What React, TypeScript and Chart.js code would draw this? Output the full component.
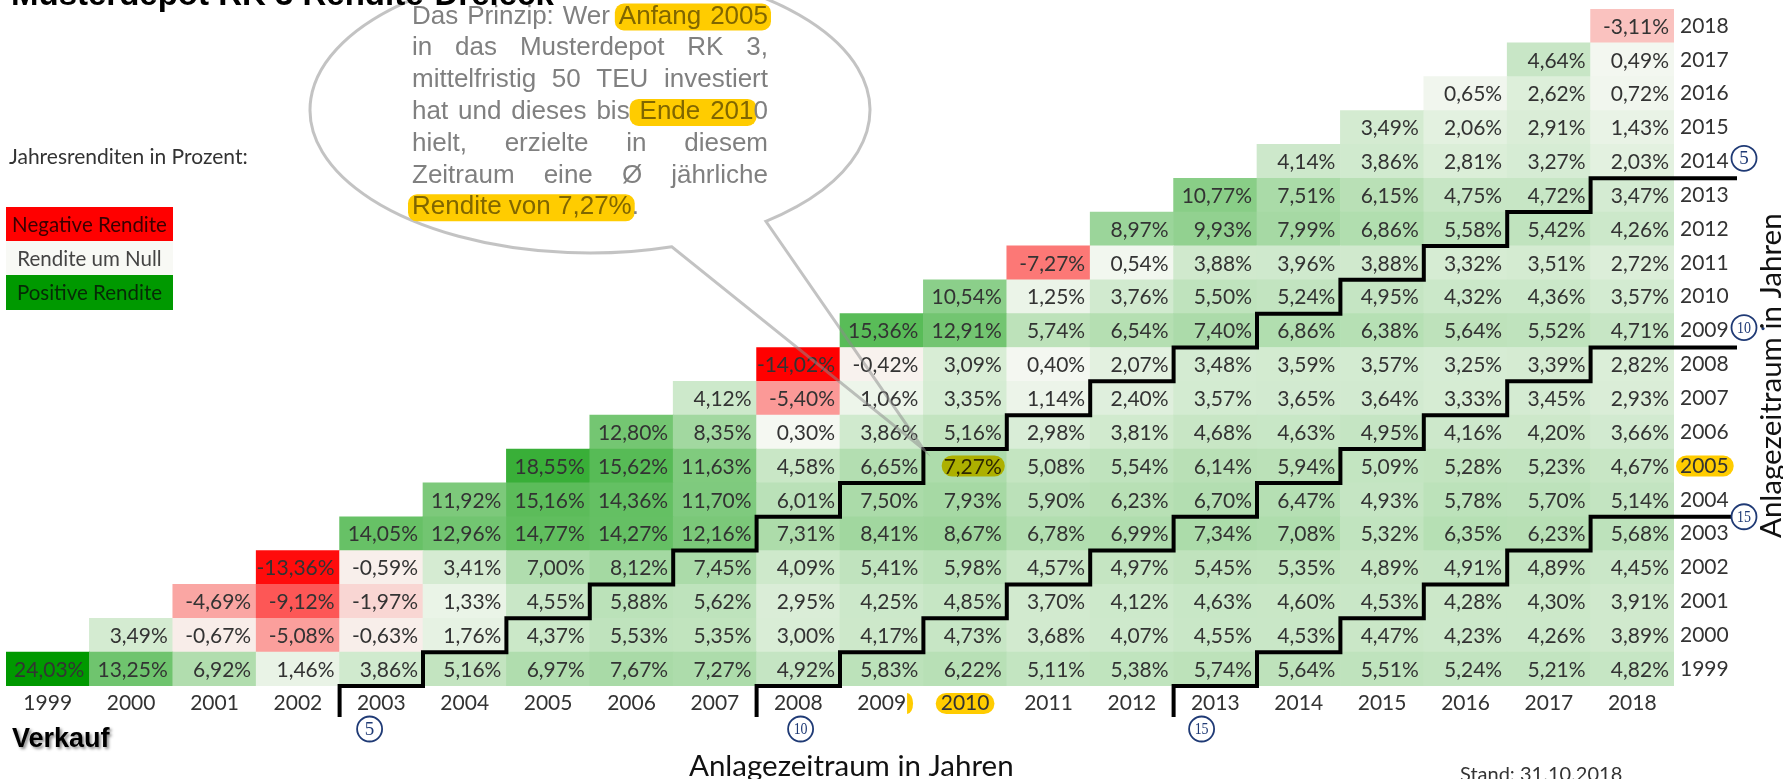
import React, { useEffect, useRef } from 'react';
import { Chart, registerables } from 'chart.js';

Chart.register(...registerables);

// Sell years (x axis, "Verkauf") and buy years (rows, "Anlage")
const sellYears = ['1999', '2000', '2001', '2002', '2003', '2004', '2005', '2006', '2007', '2008', '2009', '2010', '2011', '2012', '2013', '2014', '2015', '2016', '2017', '2018'];
const buyYears = ['1999', '2000', '2001', '2002', '2003', '2004', '2005', '2006', '2007', '2008', '2009', '2010', '2011', '2012', '2013', '2014', '2015', '2016', '2017', '2018'];

// Average yearly return (%) for each buy year, sell years from buy year to 2018
const r1999 = [24.03, 13.25, 6.92, 1.46, 3.86, 5.16, 6.97, 7.67, 7.27, 4.92, 5.83, 6.22, 5.11, 5.38, 5.74, 5.64, 5.51, 5.24, 5.21, 4.82];
const r2000 = [3.49, -0.67, -5.08, -0.63, 1.76, 4.37, 5.53, 5.35, 3.0, 4.17, 4.73, 3.68, 4.07, 4.55, 4.53, 4.47, 4.23, 4.26, 3.89];
const r2001 = [-4.69, -9.12, -1.97, 1.33, 4.55, 5.88, 5.62, 2.95, 4.25, 4.85, 3.7, 4.12, 4.63, 4.6, 4.53, 4.28, 4.3, 3.91];
const r2002 = [-13.36, -0.59, 3.41, 7.0, 8.12, 7.45, 4.09, 5.41, 5.98, 4.57, 4.97, 5.45, 5.35, 4.89, 4.91, 4.89, 4.45];
const r2003 = [14.05, 12.96, 14.77, 14.27, 12.16, 7.31, 8.41, 8.67, 6.78, 6.99, 7.34, 7.08, 5.32, 6.35, 6.23, 5.68];
const r2004 = [11.92, 15.16, 14.36, 11.7, 6.01, 7.5, 7.93, 5.9, 6.23, 6.7, 6.47, 4.93, 5.78, 5.7, 5.14];
const r2005 = [18.55, 15.62, 11.63, 4.58, 6.65, 7.27, 5.08, 5.54, 6.14, 5.94, 5.09, 5.28, 5.23, 4.67];
const r2006 = [12.8, 8.35, 0.3, 3.86, 5.16, 2.98, 3.81, 4.68, 4.63, 4.95, 4.16, 4.2, 3.66];
const r2007 = [4.12, -5.4, 1.06, 3.35, 1.14, 2.4, 3.57, 3.65, 3.64, 3.33, 3.45, 2.93];
const r2008 = [-14.02, -0.42, 3.09, 0.4, 2.07, 3.48, 3.59, 3.57, 3.25, 3.39, 2.82];
const r2009 = [15.36, 12.91, 5.74, 6.54, 7.4, 6.86, 6.38, 5.64, 5.52, 4.71];
const r2010 = [10.54, 1.25, 3.76, 5.5, 5.24, 4.95, 4.32, 4.36, 3.57];
const r2011 = [-7.27, 0.54, 3.88, 3.96, 3.88, 3.32, 3.51, 2.72];
const r2012 = [8.97, 9.93, 7.99, 6.86, 5.58, 5.42, 4.26];
const r2013 = [10.77, 7.51, 6.15, 4.75, 4.72, 3.47];
const r2014 = [4.14, 3.86, 2.81, 3.27, 2.03];
const r2015 = [3.49, 2.06, 2.91, 1.43];
const r2016 = [0.65, 2.62, 0.72];
const r2017 = [4.64, 0.49];
const r2018 = [-3.11];

const rows = [r1999, r2000, r2001, r2002, r2003, r2004, r2005, r2006, r2007, r2008, r2009, r2010, r2011, r2012, r2013, r2014, r2015, r2016, r2017, r2018];

// holding-period step lines (years)
const holdingPeriods = [5, 10, 15];
// highlighted example: buy 2005, sell 2010
const exampleBuy = '2005';
const exampleSell = '2010';

const bubbleLines = [
  'Das Prinzip: Wer [Anfang 2005]',
  'in das Musterdepot RK 3,',
  'mittelfristig 50 TEU investiert',
  'hat und dieses bis[ Ende 201]0',
  'hielt, erzielte in diesem',
  'Zeitraum eine Ø jährliche',
  '[Rendite von 7,27%].',
];

const NEG = [255, 0, 0];
const MID = [248, 249, 245];
const POS = [0, 153, 0];
const allValues = rows.flat();
const VMIN = Math.min(...allValues);
const VMAX = Math.max(...allValues);

function mixRGB(v: number): number[] {
  if (v >= 0) {
    const t = Math.min(1, v / VMAX);
    return MID.map((m, i) => Math.round(m + t * (POS[i] - m)));
  }
  const t = Math.min(1, v / VMIN);
  return MID.map((m, i) => Math.round(m + t * (NEG[i] - m)));
}
function cellColor(v: number): string {
  const c = mixRGB(v);
  return `rgb(${c[0]},${c[1]},${c[2]})`;
}
function fmt(v: number): string {
  return v.toFixed(2).replace('.', ',') + '%';
}

const FONT = 'Lato, "Open Sans", sans-serif';
const ARIAL = '"Liberation Sans", Arial, sans-serif';
const YELLOW = '#ffcc00';
const NAVY = '#1f3a75';

function circled(ctx: CanvasRenderingContext2D, x: number, y: number, n: string) {
  ctx.save();
  ctx.beginPath();
  ctx.arc(x, y, 12.5, 0, Math.PI * 2);
  ctx.fillStyle = '#fff';
  ctx.fill();
  ctx.lineWidth = 1.8;
  ctx.strokeStyle = NAVY;
  ctx.stroke();
  ctx.fillStyle = NAVY;
  ctx.font = (n.length > 1 ? '17px ' : '19px ') + '"Liberation Serif", "DejaVu Serif", serif';
  ctx.textAlign = 'center';
  ctx.textBaseline = 'middle';
  if (n.length > 1) {
    ctx.save();
    ctx.translate(x, y + 1);
    ctx.scale(0.82, 1);
    ctx.fillText(n, 0, 0);
    ctx.restore();
  } else {
    ctx.fillText(n, x, y + 1);
  }
  ctx.restore();
}

function drawBubbleText(ctx: CanvasRenderingContext2D) {
  ctx.save();
  ctx.font = '26px ' + ARIAL;
  ctx.textBaseline = 'alphabetic';
  ctx.textAlign = 'left';
  const x0 = 412;
  const width = 356;
  const base0 = 23.5;
  const lh = 31.8;
  bubbleLines.forEach((line, li) => {
    const baseY = base0 + li * lh;
    const justify = li < bubbleLines.length - 1;
    const chars: { c: string; hl: boolean }[] = [];
    let hl = false;
    for (const c of line) {
      if (c === '[') { hl = true; continue; }
      if (c === ']') { hl = false; continue; }
      chars.push({ c, hl });
    }
    const tokens: { space: boolean; chars: { c: string; hl: boolean }[] }[] = [];
    let cur: { c: string; hl: boolean }[] = [];
    chars.forEach((ch) => {
      if (ch.c === ' ') {
        if (cur.length) tokens.push({ space: false, chars: cur });
        cur = [];
        tokens.push({ space: true, chars: [ch] });
      } else cur.push(ch);
    });
    if (cur.length) tokens.push({ space: false, chars: cur });
    const words = tokens.filter((t) => !t.space);
    const nSpaces = tokens.filter((t) => t.space).length;
    const wordW = words.map((w) => ctx.measureText(w.chars.map((c) => c.c).join('')).width);
    const sumW = wordW.reduce((a, b) => a + b, 0);
    const gap = justify && nSpaces > 0 ? (width - sumW) / nSpaces : ctx.measureText(' ').width;
    const pos: { c: string; hl: boolean; x0: number; x1: number; space: boolean }[] = [];
    let x = x0;
    tokens.forEach((t) => {
      if (t.space) {
        pos.push({ ...t.chars[0], x0: x, x1: x + gap, space: true });
        x += gap;
      } else {
        const txt = t.chars.map((c) => c.c).join('');
        t.chars.forEach((ch, i) => {
          const a = ctx.measureText(txt.slice(0, i)).width;
          const b = ctx.measureText(txt.slice(0, i + 1)).width;
          pos.push({ ...ch, x0: x + a, x1: x + b, space: false });
        });
        x += ctx.measureText(txt).width;
      }
    });
    let i = 0;
    while (i < pos.length) {
      if (!pos[i].hl) { i++; continue; }
      let j = i;
      while (j + 1 < pos.length && pos[j + 1].hl) j++;
      const a = pos[i].x0 - (pos[i].space ? 0 : 4);
      const b = pos[j].x1 + (pos[j].space ? 0 : 3);
      ctx.fillStyle = YELLOW;
      ctx.beginPath();
      ctx.roundRect(a, baseY - 20, b - a, 27, 9);
      ctx.fill();
      i = j + 1;
    }
    let k = 0;
    while (k < pos.length) {
      if (pos[k].space) { k++; continue; }
      let j = k;
      let s = pos[k].c;
      while (j + 1 < pos.length && !pos[j + 1].space && pos[j + 1].hl === pos[k].hl) { j++; s += pos[j].c; }
      ctx.fillStyle = pos[k].hl ? '#806600' : '#808080';
      ctx.fillText(s, pos[k].x0, baseY);
      k = j + 1;
    }
  });
  ctx.restore();
}

const trianglePlugin = {
  id: 'triangle',
  beforeDraw(chart: any) {
    const ctx: CanvasRenderingContext2D = chart.ctx;
    const xs = chart.scales.x;
    const ys = chart.scales.y;
    ctx.save();
    ctx.fillStyle = '#fff';
    ctx.fillRect(0, 0, chart.width, chart.height);
    ctx.font = '21px ' + FONT;
    const si = sellYears.indexOf(exampleSell);
    const lx = xs.getPixelForValue(si);
    const lw = ctx.measureText(exampleSell).width;
    const ly = 703.5;
    ctx.fillStyle = YELLOW;
    ctx.beginPath();
    ctx.roundRect(lx - lw / 2 - 5, ly - 10.5, lw + 10, 21, 10.5);
    ctx.fill();
    const px = xs.getPixelForValue(si - 1) + ctx.measureText(sellYears[si - 1]).width / 2;
    ctx.beginPath();
    ctx.ellipse(px + 1, ly, 6, 10.5, 0, -Math.PI / 2, Math.PI / 2);
    ctx.fill();
    const bi = buyYears.indexOf(exampleBuy);
    const ry = ys.getPixelForValue(bi + 0.5);
    const rx = ys.left + 6;
    const rw = ctx.measureText(exampleBuy).width;
    ctx.beginPath();
    ctx.roundRect(rx - 4, ry - 10.5, rw + 9, 21, 10.5);
    ctx.fill();
    ctx.restore();
  },
  afterDatasetsDraw(chart: any) {
    const ctx: CanvasRenderingContext2D = chart.ctx;
    const xs = chart.scales.x;
    const ys = chart.scales.y;
    const n = sellYears.length;
    const colW = xs.width / n;
    const colLeft = (i: number) => xs.getPixelForValue(i) - colW / 2;
    ctx.save();
    ctx.font = '21px ' + FONT;
    ctx.textAlign = 'right';
    ctx.textBaseline = 'middle';
    const exB = buyYears.indexOf(exampleBuy);
    const exS = sellYears.indexOf(exampleSell);
    rows.forEach((row, b) => {
      const meta = chart.getDatasetMeta(b);
      row.forEach((v, k) => {
        const s = b + k;
        const el = meta.data[s];
        if (!el) return;
        const right = el.x + el.width / 2 - 5;
        const cy = (el.y + el.base) / 2;
        const txt = fmt(v);
        if (b === exB && s === exS) {
          const w = ctx.measureText(txt).width;
          const c = mixRGB(v);
          ctx.fillStyle = `rgb(${c[0]},${Math.round((c[1] * 204) / 255)},0)`;
          ctx.beginPath();
          ctx.roundRect(right - w - 2, cy - 10.5, w + 5, 21, 10.5);
          ctx.fill();
          ctx.fillStyle = '#2e2800';
        } else {
          ctx.fillStyle = '#333';
        }
        ctx.fillText(txt, right, cy + 1);
      });
    });
    ctx.strokeStyle = '#000';
    ctx.lineWidth = 4;
    ctx.lineJoin = 'miter';
    ctx.lineCap = 'butt';
    holdingPeriods.forEach((N) => {
      const k = N - 1;
      ctx.beginPath();
      ctx.moveTo(colLeft(k), 717);
      ctx.lineTo(colLeft(k), ys.getPixelForValue(0));
      for (let s = k; s < n; s++) {
        const b = s - k;
        ctx.lineTo(colLeft(s + 1), ys.getPixelForValue(b));
        if (s < n - 1) ctx.lineTo(colLeft(s + 1), ys.getPixelForValue(b + 1));
      }
      ctx.lineTo(1737, ys.getPixelForValue(20 - N));
      ctx.stroke();
    });
    ctx.restore();
  },
  afterDraw(chart: any) {
    const ctx: CanvasRenderingContext2D = chart.ctx;
    const xs = chart.scales.x;
    const ys = chart.scales.y;
    const n = sellYears.length;
    const colW = xs.width / n;
    const colLeft = (i: number) => xs.getPixelForValue(i) - colW / 2;
    ctx.save();

    const bottomOffsets: Record<number, number> = { 5: 30, 10: 44, 15: 28 };
    holdingPeriods.forEach((N) => {
      circled(ctx, colLeft(N - 1) + bottomOffsets[N], 729, String(N));
      const yy = N === 15 ? ys.getPixelForValue(20 - N) : ys.getPixelForValue(20 - N + 0.5) - 3;
      circled(ctx, 1744, yy, String(N));
    });
    ctx.fillStyle = NAVY;
    ctx.beginPath();
    ctx.arc(1763, ys.getPixelForValue(10.5) - 2, 1.6, 0, Math.PI * 2);
    ctx.fill();

    // speech bubble
    const ecx = 590, ecy = 110, erx = 280, ery = 143;
    const a1 = Math.atan2((247 - ecy) / ery, (672 - ecx) / erx);
    const a2 = Math.atan2((222 - ecy) / ery, (767 - ecx) / erx);
    const tipX = colLeft(sellYears.indexOf(exampleSell));
    const tipY = ys.getPixelForValue(buyYears.indexOf(exampleBuy) + 1);
    ctx.beginPath();
    ctx.ellipse(ecx, ecy, erx, ery, 0, a1, a2 + Math.PI * 2, false);
    ctx.lineTo(tipX, tipY);
    ctx.closePath();
    ctx.strokeStyle = 'rgba(140,140,140,0.52)';
    ctx.lineWidth = 3;
    ctx.lineJoin = 'miter';
    ctx.stroke();
    drawBubbleText(ctx);

    // title (cut at top)
    ctx.fillStyle = '#000';
    ctx.font = 'bold 33px ' + ARIAL;
    ctx.textAlign = 'left';
    ctx.textBaseline = 'alphabetic';
    ctx.fillText('Musterdepot RK 3 Rendite-Dreieck', 11, 5);

    // legend
    ctx.font = '21px ' + FONT;
    ctx.fillStyle = '#333';
    ctx.textBaseline = 'middle';
    ctx.fillText('Jahresrenditen in Prozent:', 9, 157);
    const legend: [string, string, string, number, number][] = [
      ['Negative Rendite', 'rgb(255,0,0)', '#3a0000', 207, 241],
      ['Rendite um Null', `rgb(${MID[0]},${MID[1]},${MID[2]})`, '#444', 241, 275],
      ['Positive Rendite', 'rgb(0,153,0)', '#062a06', 275, 310],
    ];
    ctx.font = '20.5px ' + FONT;
    ctx.textAlign = 'center';
    legend.forEach(([label, bg, fg, y0, y1]) => {
      ctx.fillStyle = bg;
      ctx.fillRect(6, y0, 167, y1 - y0);
      ctx.fillStyle = fg;
      ctx.fillText(label, 89.5, (y0 + y1) / 2 + 1);
    });

    // Verkauf
    ctx.save();
    ctx.font = 'bold 27px ' + ARIAL;
    ctx.textAlign = 'left';
    ctx.textBaseline = 'alphabetic';
    ctx.shadowColor = 'rgba(0,0,0,0.45)';
    ctx.shadowBlur = 3;
    ctx.shadowOffsetX = 2;
    ctx.shadowOffsetY = 2;
    ctx.fillStyle = '#000';
    ctx.fillText('Verkauf', 12, 747);
    ctx.restore();

    // axis titles
    ctx.fillStyle = '#111';
    ctx.font = '29.5px ' + FONT;
    ctx.textAlign = 'left';
    ctx.textBaseline = 'alphabetic';
    ctx.fillText('Anlagezeitraum in Jahren', 689, 776);
    ctx.save();
    ctx.translate(1781, 538);
    ctx.rotate(-Math.PI / 2);
    ctx.fillText('Anlagezeitraum in Jahren', 0, 0);
    ctx.restore();

    // Stand
    ctx.fillStyle = '#333';
    ctx.font = '20px ' + FONT;
    ctx.fillText('Stand: 31.10.2018', 1460, 781);

    ctx.restore();
  },
};

export default function App() {
  const ref = useRef<HTMLCanvasElement>(null);
  useEffect(() => {
    const canvas = ref.current;
    if (!canvas) return;
    const datasets = rows.map((row, b) => ({
      label: buyYears[b],
      data: sellYears.map((_, s) => (s >= b ? [b, b + 1] : null)),
      backgroundColor: sellYears.map((_, s) => (s >= b ? cellColor(row[s - b]) : 'rgba(0,0,0,0)')),
      borderWidth: 0,
      barPercentage: 1,
      categoryPercentage: 1,
      grouped: false,
    }));
    const chart = new Chart(canvas, {
      type: 'bar',
      data: { labels: sellYears, datasets: datasets as any },
      options: {
        responsive: false,
        maintainAspectRatio: false,
        animation: false,
        events: [],
        layout: { padding: { left: 6, top: 9, right: 39, bottom: 43 } },
        plugins: { legend: { display: false }, tooltip: { enabled: false } },
        scales: {
          x: {
            type: 'category',
            position: 'bottom',
            grid: { display: false, drawTicks: false },
            border: { display: false },
            ticks: { color: '#333', font: { family: FONT, size: 21 }, padding: 5, maxRotation: 0, autoSkip: false },
            afterFit: (scale: any) => {
              scale.height = 50;
              scale.paddingLeft = 0;
              scale.paddingRight = 0;
            },
          },
          y: {
            type: 'linear',
            position: 'right',
            min: 0,
            max: 20,
            grid: { display: false, drawTicks: false },
            border: { display: false },
            ticks: {
              color: '#333',
              font: { family: FONT, size: 21 },
              padding: 6,
              autoSkip: false,
              callback: (v: any) => buyYears[Math.floor(Number(v))],
            },
            afterBuildTicks: (scale: any) => {
              scale.ticks = buyYears.map((_, i) => ({ value: i + 0.5 }));
            },
            afterFit: (scale: any) => {
              scale.width = 70;
              scale.paddingTop = 0;
              scale.paddingBottom = 0;
            },
          },
        },
      } as any,
      plugins: [trianglePlugin],
    });
    return () => chart.destroy();
  }, []);
  return (
    <div style={{ position: 'absolute', left: 0, top: 0, width: 1783, height: 779, background: '#fff', overflow: 'hidden' }}>
      <canvas ref={ref} width={1783} height={779} style={{ display: 'block', width: 1783, height: 779 }} />
    </div>
  );
}
